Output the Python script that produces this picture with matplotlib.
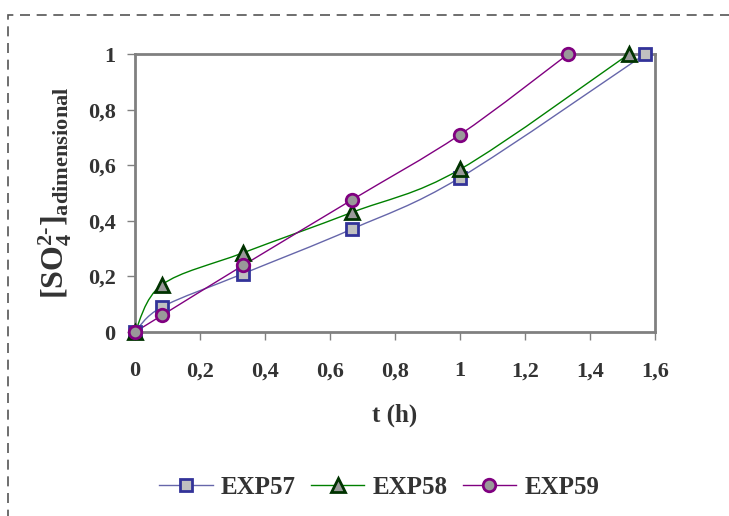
import numpy as np
import matplotlib
matplotlib.use('Agg')
import matplotlib.pyplot as plt
from matplotlib.path import Path
from matplotlib.patches import PathPatch, Rectangle
from matplotlib.lines import Line2D

plt.rcParams['font.family'] = 'Liberation Serif'
plt.rcParams['font.weight'] = 'bold'
plt.rcParams['axes.labelweight'] = 'bold'
plt.rcParams['mathtext.fontset'] = 'custom'
plt.rcParams['mathtext.rm'] = 'Liberation Serif:weight=bold'
plt.rcParams['mathtext.it'] = 'Liberation Serif:weight=bold'
plt.rcParams['mathtext.bf'] = 'Liberation Serif:weight=bold'

TXT = '#333333'

# data
t57 = [0, 0.083, 0.333, 0.667, 1.0, 1.57]
c57 = [0, 0.09, 0.21, 0.37, 0.555, 1.0]
t58 = [0, 0.083, 0.333, 0.667, 1.0, 1.52]
c58 = [0, 0.17, 0.285, 0.43, 0.585, 1.0]
t59 = [0, 0.083, 0.333, 0.667, 1.0, 1.333]
c59 = [0, 0.06, 0.24, 0.475, 0.71, 1.0]

xticks = [0, 0.2, 0.4, 0.6, 0.8, 1.0, 1.2, 1.4, 1.6]
xticklabels = ['0', '0,2', '0,4', '0,6', '0,8', '1', '1,2', '1,4', '1,6']
yticks = [0, 0.2, 0.4, 0.6, 0.8, 1.0]
yticklabels = ['0', '0,2', '0,4', '0,6', '0,8', '1']


def smooth_path(ax, x, y):
    # Excel-like smoothed line: cubic Bezier segments, Catmull-Rom control points
    # computed in display space so the curve shape follows the axes scaling
    pts = ax.transData.transform(np.column_stack([x, y]))
    n = len(pts)
    verts = [pts[0]]
    codes = [Path.MOVETO]
    for i in range(n - 1):
        p0 = pts[max(i - 1, 0)]
        p1 = pts[i]
        p2 = pts[i + 1]
        p3 = pts[min(i + 2, n - 1)]
        verts += [p1 + (p2 - p0) / 6, p2 - (p3 - p1) / 6, p2]
        codes += [Path.CURVE4] * 3
    return Path(verts, codes)


fig = plt.figure(figsize=(7.29, 5.16), dpi=100)
ax = fig.add_axes([135 / 729, 1 - 332 / 516, 520 / 729, 278 / 516])
ax.set_xlim(0, 1.6)
ax.set_ylim(0, 1)

series = [
    (t57, c57, 'EXP57', '#6666aa', 's', '#c0c0c0', '#333399', 9),
    (t58, c58, 'EXP58', '#008000', '^', '#999999', '#003300', 10),
    (t59, c59, 'EXP59', '#800080', 'o', '#999999', '#800080', 9),
]

handles = []
for x, y, name, lc, mk, mfc, mec, ms in series:
    p = smooth_path(ax, x, y)
    ax.add_patch(PathPatch(p, transform=None, fill=False, edgecolor=lc,
                           lw=1.0, zorder=3, clip_on=False))
    ax.plot(x, y, ls='none', marker=mk, ms=ms, mfc=mfc, mec=mec, mew=2,
            zorder=4, clip_on=False)
    handles.append(Line2D([], [], color=lc, lw=1.0, marker=mk, ms=ms,
                          mfc=mfc, mec=mec, mew=2, label=name))

for s in ax.spines.values():
    s.set_color('#808080')
    s.set_linewidth(2)

ax.set_xticks(xticks)
ax.set_xticklabels(xticklabels)
ax.set_yticks(yticks)
ax.set_yticklabels(yticklabels)
ax.tick_params(axis='x', direction='out', length=6, width=1, color='#808080',
               pad=15, labelsize=16, labelcolor=TXT)
ax.tick_params(axis='y', direction='out', length=6, width=1, color='#808080',
               pad=8, labelsize=16, labelcolor=TXT)

ax.set_xlabel('t (h)', fontsize=18, color=TXT, labelpad=16)
ax.set_ylabel(r'[SO$_4^{2\text{-}}$]$_{\mathrm{adimensional}}$',
              fontsize=23, color=TXT, labelpad=10)

fig.legend(handles=handles, loc='center', bbox_to_anchor=(0.52, 1 - 487 / 516),
           ncol=3, frameon=False, fontsize=18, handlelength=2.15,
           columnspacing=0.6, handletextpad=0.32, labelcolor=TXT)

fig.patches.append(Rectangle((8, -100), 900, 601, transform=None, fill=False,
                             edgecolor='#555555', lw=1.2, ls=(0, (6, 4))))

fig.savefig('out.png', dpi=100)
